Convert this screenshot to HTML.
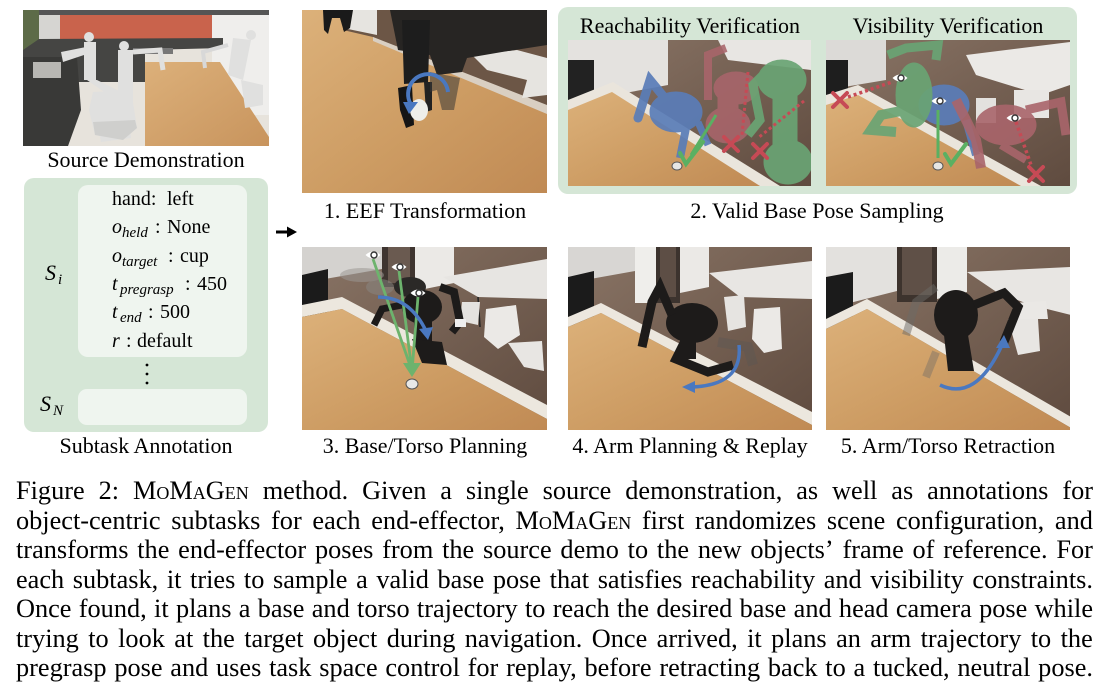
<!DOCTYPE html>
<html><head><meta charset="utf-8">
<style>
html,body{margin:0;padding:0;background:#fff;}
body{width:1104px;height:700px;position:relative;overflow:hidden;font-family:"Liberation Serif",serif;}
.ln{position:absolute;left:16px;width:1077px;height:29.5px;line-height:29.5px;font-size:26.3px;display:flex;justify-content:space-between;white-space:nowrap;color:#000;}
.sc{font-variant:small-caps;}
svg text{font-family:"Liberation Serif",serif;}
</style></head><body>
<svg width="1104" height="700" viewBox="0 0 1104 700" style="position:absolute;left:0;top:0">
<defs>
<linearGradient id="wd" x1="0" y1="0" x2="1" y2="1"><stop offset="0" stop-color="#dcb17a"/><stop offset=".55" stop-color="#cd9c63"/><stop offset="1" stop-color="#c08a54"/></linearGradient>
<linearGradient id="wd2" x1="0" y1="0" x2="1" y2="1"><stop offset="0" stop-color="#dcb07a"/><stop offset="1" stop-color="#c8945d"/></linearGradient>
<linearGradient id="fl" x1="0" y1="0" x2="1" y2="1"><stop offset="0" stop-color="#8a7566"/><stop offset="1" stop-color="#5f4b3f"/></linearGradient>
<symbol id="eye" viewBox="-8 -6 16 12"><path d="M-7.5,0 Q0,-7 7.5,0 Q0,7 -7.5,0Z" fill="#fff"/><circle cx="1" cy="0" r="3" fill="none" stroke="#333" stroke-width="1.4"/></symbol>
</defs>

<!-- Source demonstration -->
<svg x="23" y="10" width="246" height="136" viewBox="0 0 246 136">
<rect width="246" height="136" fill="#e7e3dc"/>
<rect width="246" height="6" fill="#555"/>
<rect x="0" y="0" width="16" height="62" fill="#5d6b48"/>
<rect x="16" y="5" width="22" height="40" fill="#d6d5d2"/>
<rect x="37" y="5" width="152" height="24" fill="#c9634c"/>
<rect x="189" y="5" width="57" height="100" fill="#efeeec"/>
<polygon points="16,29 200,28 200,38 122,40 122,72 54,72 0,60 0,40" fill="#454543"/>
<polygon points="0,47 54,47 58,100 45,136 0,136" fill="#393937"/>
<rect x="10" y="52" width="28" height="16" fill="#b8b7b3"/>
<rect x="110" y="38" width="40" height="6" fill="#777"/>
<polygon points="122,52 197,52 246,127 246,136 122,136" fill="url(#wd2)"/>
<g fill="#e0e0df">
<circle cx="66" cy="27" r="5"/><rect x="61" y="32" width="12" height="38"/>
<polygon points="38,42 63,37 64,44 40,52"/>
<polygon points="64,70 74,70 98,82 90,88"/>
<polygon points="70,82 108,80 114,118 100,130 72,125 66,100"/>
<circle cx="101" cy="36" r="5"/><rect x="95" y="40" width="15" height="52"/>
<polygon points="72,100 105,97 108,128 78,132"/>
<circle cx="228" cy="25" r="5"/><polygon points="210,28 228,30 220,70 205,65"/>
<polygon points="218,70 240,75 240,95 222,98"/>
</g>
<path d="M110,42 L137,40 L140,60" stroke="#e0e0df" stroke-width="5" fill="none"/>
<path d="M205,35 L180,42 L182,58" stroke="#d8d8d8" stroke-width="4" fill="none"/>
<polygon points="70,112 112,110 114,118 100,130 72,125" fill="#cfcfcd"/>
</svg>

<!-- 1. EEF -->
<svg x="302" y="10" width="245" height="183" viewBox="0 0 245 183">
<rect width="245" height="183" fill="url(#wd)"/>
<polygon points="41,0 245,0 245,100 71,27 41,20" fill="#6c5646"/>
<polygon points="41,0 75,0 75,25 41,18" fill="#e6e4e0"/>
<polygon points="71,27 245,95 245,104 71,31" fill="#d9cfc2"/>
<polygon points="170,45 215,40 245,48 245,85 220,88 225,70 185,60" fill="#e6e4e0"/>
<polygon points="88,0 245,0 245,35 200,42 165,48 160,62 135,65 128,45 96,40" fill="#272523"/>
<polygon points="100,10 128,10 126,72 102,74" fill="#1d1d1d"/>
<polygon points="96,78 110,75 112,115 104,118 98,100" fill="#151515"/>
<polygon points="122,72 130,72 130,100 124,102" fill="#222"/>
<polygon points="128,62 158,68 152,100 140,100 135,80 128,82" fill="#3a3836" opacity=".55"/>
<ellipse cx="117" cy="100" rx="9" ry="11" fill="#eeeeea"/>
<polygon points="21,0 51,0 48,18 42,22 38,8 30,8 26,24 22,20" fill="#1a1a1a"/>
<path d="M146,82 A20,20 0 1 0 110,96" stroke="#4a78c0" stroke-width="4" fill="none"/>
<polygon points="101,92 116,92 107,104" fill="#4a78c0"/>
</svg>

<!-- Valid base pose panel -->
<rect x="558" y="7" width="519" height="187" rx="10" fill="#d5e6d6"/>
<text x="690" y="33" font-size="22" text-anchor="middle">Reachability Verification</text>
<text x="948" y="33" font-size="22" text-anchor="middle">Visibility Verification</text>

<svg x="568" y="40" width="243" height="146" viewBox="0 0 243 146">
<rect width="243" height="146" fill="url(#fl)"/>
<polygon points="0,0 100,0 100,45 30,58 0,62" fill="#e4e2df"/>
<rect x="0" y="20" width="26" height="48" fill="#222"/>
<polygon points="150,0 243,0 243,30 160,20" fill="#e8e6e3"/>
<polygon points="0,60 45,42 212,146 0,146" fill="#eae5dc"/>
<polygon points="0,70 44,52 192,146 0,146" fill="url(#wd)"/>
<g fill="#a9656b" stroke="#a9656b" opacity=".88">
<path d="M140,60 L140,15 L158,8" stroke-width="8" fill="none"/>
<ellipse cx="168" cy="48" rx="22" ry="16"/><rect x="150" y="55" width="20" height="35"/>
<ellipse cx="160" cy="85" rx="22" ry="18"/>
</g>
<g fill="#5a7db8" stroke="#5a7db8" opacity=".92">
<ellipse cx="108" cy="72" rx="26" ry="20"/>
<path d="M100,62 L82,40 L70,78" stroke-width="9" fill="none" stroke-linecap="round"/>
<path d="M118,88 L112,118" stroke-width="8" fill="none"/>
<path d="M130,82 L140,105" stroke-width="7" fill="none"/>
</g>
<g fill="#6aa474" stroke="#6aa474" opacity=".92">
<ellipse cx="214" cy="40" rx="24" ry="20"/>
<path d="M200,30 L185,45 L192,80 L180,95" stroke-width="9" fill="none"/>
<rect x="205" y="55" width="24" height="50"/>
<ellipse cx="220" cy="122" rx="24" ry="22"/>
</g>
<path d="M148,75 L123,115" stroke="#5ab062" stroke-width="3"/>
<path d="M180,32 L174,95 M236,61 L190,98" stroke="#c64a55" stroke-width="3" stroke-dasharray="3 3" fill="none"/>
<path d="M156,97 L170,111 M170,97 L156,111 M185,104 L199,118 M199,104 L185,118" stroke="#c64a55" stroke-width="4" stroke-linecap="round"/>
<path d="M112,113 L118,124 L135,102" stroke="#5ab062" stroke-width="4" fill="none" stroke-linecap="round"/>
<ellipse cx="109" cy="126" rx="5" ry="4" fill="#e6e6e4" stroke="#555"/>
</svg>

<svg x="826" y="40" width="244" height="146" viewBox="0 0 244 146">
<rect width="244" height="146" fill="url(#fl)"/>
<polygon points="0,0 60,0 60,40 0,50" fill="#dcdad7"/>
<rect x="0" y="20" width="22" height="50" fill="#1e1e1e"/>
<polygon points="140,15 244,2 244,45 215,55 150,35" fill="#ebe9e6"/>
<rect x="188" y="50" width="35" height="28" fill="#e8e6e3"/>
<rect x="150" y="58" width="20" height="25" fill="#e3e1de"/>
<polygon points="0,55 32,45 215,146 0,146" fill="#eae5dc"/>
<polygon points="0,65 32,55 195,146 0,146" fill="url(#wd)"/>
<g fill="#5a7db8" stroke="#5a7db8" opacity=".92">
<ellipse cx="118" cy="65" rx="25" ry="20"/>
<path d="M140,80 L150,115" stroke-width="8" fill="none"/>
</g>
<g fill="#a9656b" stroke="#a9656b" opacity=".9">
<path d="M130,60 L150,100 L155,128" stroke-width="10" fill="none"/>
<ellipse cx="180" cy="85" rx="30" ry="20"/>
<path d="M200,70 L235,62 L240,95" stroke-width="9" fill="none"/>
<path d="M175,105 L200,120" stroke-width="8" fill="none"/>
</g>
<g fill="#6aa474" stroke="#6aa474" opacity=".92">
<path d="M62,15 L80,8 L112,5 L110,20" stroke-width="9" fill="none"/>
<ellipse cx="88" cy="55" rx="18" ry="32"/>
<path d="M80,70 L55,75 L45,90 L70,92" stroke-width="10" fill="none"/>
</g>
<path d="M112,70 L112,118" stroke="#5ab062" stroke-width="3"/>
<path d="M22,57 L66,42 M190,82 L205,125" stroke="#c64a55" stroke-width="3.5" stroke-dasharray="3 3" fill="none"/>
<path d="M7,53 L21,67 M21,53 L7,67 M203,127 L217,141 M217,127 L203,141" stroke="#c64a55" stroke-width="4" stroke-linecap="round"/>
<path d="M119,114 L125,124 L140,104" stroke="#5ab062" stroke-width="4" fill="none" stroke-linecap="round"/>
<ellipse cx="112" cy="126" rx="5" ry="4" fill="#e6e6e4" stroke="#555"/>
<use href="#eye" x="66" y="32" width="16" height="12"/>
<use href="#eye" x="105" y="55" width="16" height="12"/>
<use href="#eye" x="180" y="72" width="16" height="12"/>
</svg>

<!-- Subtask annotation -->
<rect x="24" y="178" width="244" height="254" rx="10" fill="#d5e6d6"/>
<rect x="78" y="185" width="169" height="172" rx="10" fill="#eff5ef"/>
<rect x="78" y="389" width="169" height="36" rx="9" fill="#eff5ef"/>
<g font-size="20">
<text x="112" y="205">hand:</text><text x="167" y="205">left</text>
<text x="112" y="233" font-style="italic">o</text><text x="122" y="237" font-size="15" font-style="italic">held</text><text x="155" y="233">:</text><text x="167" y="233">None</text>
<text x="112" y="262" font-style="italic">o</text><text x="122" y="266" font-size="15" font-style="italic">target</text><text x="168" y="262">:</text><text x="180" y="262">cup</text>
<text x="112" y="290" font-style="italic">t</text><text x="120" y="294" font-size="15" font-style="italic">pregrasp</text><text x="185" y="290">:</text><text x="197" y="290">450</text>
<text x="112" y="318" font-style="italic">t</text><text x="120" y="322" font-size="15" font-style="italic">end</text><text x="148" y="318">:</text><text x="160" y="318">500</text>
<text x="112" y="347" font-style="italic">r</text><text x="126" y="347">:</text><text x="137" y="347">default</text>
</g>
<text x="45" y="280" font-size="22" font-style="italic">S</text><text x="58" y="284" font-size="15" font-style="italic">i</text>
<text x="40" y="411" font-size="22" font-style="italic">S</text><text x="53" y="415" font-size="15" font-style="italic">N</text>
<circle cx="147" cy="365" r="1.4" fill="#000"/><circle cx="147" cy="374" r="1.4" fill="#000"/><circle cx="147" cy="383" r="1.4" fill="#000"/>

<line x1="276" y1="232" x2="290" y2="232" stroke="#000" stroke-width="3"/>
<polygon points="287,226.5 297,232 287,237.5" fill="#000"/>

<!-- 3. Base/Torso -->
<svg x="302" y="247" width="245" height="183" viewBox="0 0 245 183">
<rect width="245" height="183" fill="url(#fl)"/>
<polygon points="0,0 80,0 80,22 0,36" fill="#d4d2cf"/>
<rect x="80" y="0" width="33" height="40" fill="#3f3530"/>
<rect x="86" y="0" width="22" height="36" fill="#6a5a50"/>
<polygon points="113,0 152,0 152,36 113,44" fill="#ebe9e6"/>
<polygon points="0,28 26,22 26,74 0,80" fill="#1b1b1b"/>
<polygon points="141,30 245,12 245,52 176,50" fill="#e7e5e2"/>
<line x1="176" y1="50" x2="178" y2="80" stroke="#222" stroke-width="1.5"/>
<polygon points="184,62 214,58 218,88 196,102 182,90" fill="#ebe9e6"/>
<polygon points="160,55 178,55 176,78 158,74" fill="#e4e2df"/>
<polygon points="206,96 240,94 242,124 222,120" fill="#e8e6e3"/>
<polygon points="0,58 40,50 245,158 245,172 40,62 0,70" fill="#ece7de"/>
<polygon points="0,70 40,62 245,172 245,183 0,183" fill="url(#wd)"/>
<ellipse cx="60" cy="28" rx="22" ry="7" fill="#9a9894" opacity=".55"/>
<ellipse cx="78" cy="40" rx="14" ry="8" fill="#8a8884" opacity=".5"/>
<g fill="#1d1b1a" stroke="#1d1b1a">
<ellipse cx="108" cy="40" rx="16" ry="10" fill="#2b2927" stroke="none"/>
<ellipse cx="120" cy="60" rx="20" ry="17" stroke="none"/>
<path d="M138,40 L152,45 L158,75 L150,85" stroke-width="8" fill="none"/>
<path d="M100,58 L80,62 L72,78" stroke-width="7" fill="none"/>
<rect x="112" y="70" width="18" height="30" stroke="none"/>
<polygon points="110,92 140,95 145,118 120,116" stroke="none"/>
</g>
<rect x="153" y="72" width="11" height="8" fill="#eee"/>
<path d="M71,12 L110,124 M97,24 L110,124 M116,50 L110,124" stroke="#6db36d" stroke-width="2.8" fill="none"/>
<polygon points="101,116 119,116 110,130" fill="#6db36d"/>
<path d="M76,50 Q108,50 124,84" stroke="#4a78c0" stroke-width="3.5" fill="none"/>
<polygon points="117,82 131,80 126,93" fill="#4a78c0"/>
<use href="#eye" x="63" y="2" width="16" height="12"/>
<use href="#eye" x="89" y="14" width="16" height="12"/>
<use href="#eye" x="108" y="40" width="16" height="12"/>
<ellipse cx="110" cy="137" rx="6" ry="5" fill="#e8e8e6" stroke="#555"/>
</svg>

<!-- 4. Arm planning -->
<svg x="568" y="247" width="244" height="183" viewBox="0 0 244 183">
<rect width="244" height="183" fill="url(#fl)"/>
<polygon points="0,0 67,0 67,24 0,36" fill="#d8d6d3"/>
<rect x="67" y="0" width="21" height="56" fill="#efeeeb"/>
<rect x="88" y="0" width="24" height="56" fill="#3c332e"/>
<rect x="92" y="0" width="16" height="50" fill="#5d4e45"/>
<polygon points="112,0 141,0 141,40 112,46" fill="#ebe9e6"/>
<polygon points="0,30 26,24 26,76 0,82" fill="#1b1b1b"/>
<polygon points="141,26 244,14 244,52 172,50" fill="#e8e6e3"/>
<polygon points="156,50 176,48 178,80 160,84" fill="#e6e4e1"/>
<polygon points="186,62 212,60 214,102 196,106 184,92" fill="#ebe9e6"/>
<polygon points="0,70 33,56 244,165 244,178 33,66 0,80" fill="#ece7de"/>
<polygon points="0,80 33,66 244,178 244,183 0,183" fill="url(#wd)"/>
<path d="M150,95 L180,100 L185,118" stroke="#555" stroke-width="10" fill="none" opacity=".35"/>
<g fill="#1d1b1a" stroke="#1d1b1a">
<ellipse cx="124" cy="76" rx="26" ry="20" stroke="none"/>
<path d="M104,68 L92,40 L84,55 L74,100" stroke-width="9" fill="none"/>
<path d="M118,92 L108,112 L140,125 L165,118" stroke-width="9" fill="none"/>
<rect x="112" y="90" width="16" height="22" stroke="none"/>
</g>
<path d="M171,98 Q175,138 124,140" stroke="#4a78c0" stroke-width="3.5" fill="none"/>
<polygon points="127,134 127,146 114,140" fill="#4a78c0"/>
</svg>

<!-- 5. Retraction -->
<svg x="826" y="247" width="244" height="183" viewBox="0 0 244 183">
<rect width="244" height="183" fill="url(#fl)"/>
<polygon points="0,0 71,0 71,44 0,62" fill="#e3e1de"/>
<rect x="71" y="0" width="40" height="55" fill="#3d332d"/>
<rect x="76" y="0" width="30" height="48" fill="#5f5047"/>
<polygon points="111,0 141,0 141,45 111,52" fill="#ecebe8"/>
<polygon points="0,30 27,25 27,76 0,82" fill="#1b1b1b"/>
<polygon points="141,25 245,20 245,68 205,58 172,46" fill="#e8e6e3"/>
<polygon points="186,56 220,54 222,72 188,72" fill="#eae8e5"/>
<polygon points="182,72 212,72 214,104 192,108" fill="#e8e6e3"/>
<polygon points="0,72 41,52 245,170 245,181 41,62 0,82" fill="#ece7de"/>
<polygon points="0,82 41,62 245,181 245,183 0,183" fill="url(#wd)"/>
<path d="M110,40 L90,55 L80,88" stroke="#6b6966" stroke-width="8" fill="none" opacity=".5"/>
<path d="M110,105 L100,130" stroke="#6b6966" stroke-width="8" fill="none" opacity=".4"/>
<g fill="#1d1b1a" stroke="#1d1b1a">
<ellipse cx="130" cy="68" rx="22" ry="25" stroke="none"/>
<path d="M148,58 L178,46 L192,60 L178,95" stroke-width="9" fill="none"/>
<polygon points="118,88 142,88 148,124 122,124" stroke="none"/>
</g>
<path d="M114,138 Q150,155 176,98" stroke="#4a78c0" stroke-width="3.5" fill="none"/>
<polygon points="170,101 184,101 178,88" fill="#4a78c0"/>
</svg>

<g font-size="22" text-anchor="middle">
<text x="146" y="167">Source Demonstration</text>
<text x="425" y="218">1. EEF Transformation</text>
<text x="817" y="218">2. Valid Base Pose Sampling</text>
<text x="146" y="453">Subtask Annotation</text>
<text x="425" y="453">3. Base/Torso Planning</text>
<text x="690" y="453">4. Arm Planning &amp; Replay</text>
<text x="948" y="453">5. Arm/Torso Retraction</text>
</g>
</svg>

<div class="ln" style="top:476.4px"><span>Figure</span><span>2:</span><span class="sc">MoMaGen</span><span>method.</span><span>Given</span><span>a</span><span>single</span><span>source</span><span>demonstration,</span><span>as</span><span>well</span><span>as</span><span>annotations</span><span>for</span></div>
<div class="ln" style="top:505.9px"><span>object-centric</span><span>subtasks</span><span>for</span><span>each</span><span>end-effector,</span><span class="sc">MoMaGen</span><span>first</span><span>randomizes</span><span>scene</span><span>configuration,</span><span>and</span></div>
<div class="ln" style="top:535.4px"><span>transforms</span><span>the</span><span>end-effector</span><span>poses</span><span>from</span><span>the</span><span>source</span><span>demo</span><span>to</span><span>the</span><span>new</span><span>objects’</span><span>frame</span><span>of</span><span>reference.</span><span>For</span></div>
<div class="ln" style="top:564.9px"><span>each</span><span>subtask,</span><span>it</span><span>tries</span><span>to</span><span>sample</span><span>a</span><span>valid</span><span>base</span><span>pose</span><span>that</span><span>satisfies</span><span>reachability</span><span>and</span><span>visibility</span><span>constraints.</span></div>
<div class="ln" style="top:594.4px"><span>Once</span><span>found,</span><span>it</span><span>plans</span><span>a</span><span>base</span><span>and</span><span>torso</span><span>trajectory</span><span>to</span><span>reach</span><span>the</span><span>desired</span><span>base</span><span>and</span><span>head</span><span>camera</span><span>pose</span><span>while</span></div>
<div class="ln" style="top:623.9px"><span>trying</span><span>to</span><span>look</span><span>at</span><span>the</span><span>target</span><span>object</span><span>during</span><span>navigation.</span><span>Once</span><span>arrived,</span><span>it</span><span>plans</span><span>an</span><span>arm</span><span>trajectory</span><span>to</span><span>the</span></div>
<div class="ln" style="top:653.4px"><span>pregrasp</span><span>pose</span><span>and</span><span>uses</span><span>task</span><span>space</span><span>control</span><span>for</span><span>replay,</span><span>before</span><span>retracting</span><span>back</span><span>to</span><span>a</span><span>tucked,</span><span>neutral</span><span>pose.</span></div>
</body></html>
